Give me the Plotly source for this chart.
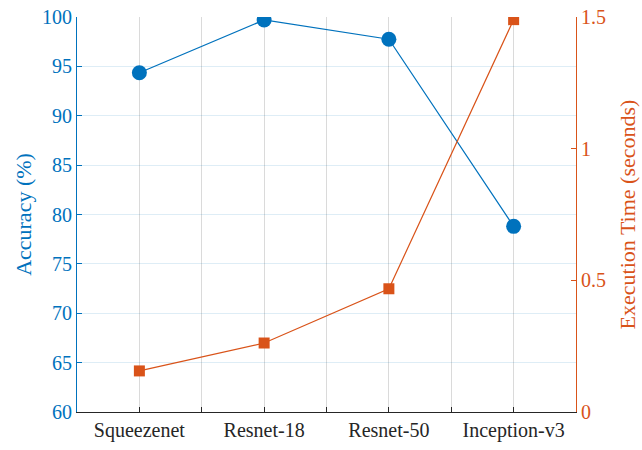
import plotly.graph_objects as go

# Model names and measured results
models = ["Squeezenet", "Resnet-18", "Resnet-50", "Inception-v3"]
accuracy_pct = [94.35, 99.7, 97.75, 78.8]
exec_time_s = [0.156, 0.262, 0.468, 1.49]

# Category positions (integers) with half-step ticks in between
x_pos = list(range(1, len(models) + 1))
tick_vals = [0.5 + 0.5 * i for i in range(2 * len(models) + 1)]
tick_text = [models[int(v) - 1] if float(v).is_integer() else "" for v in tick_vals]

BLUE = "#0072BD"
ORANGE = "#D95319"
DARK = "#262626"
FONT = "Liberation Serif"

fig = go.Figure()

fig.add_trace(go.Scatter(
    x=x_pos, y=accuracy_pct, mode="lines+markers", name="Accuracy",
    line=dict(color=BLUE, width=1.2),
    marker=dict(symbol="circle", size=15, color=BLUE, line=dict(width=0)),
    yaxis="y",
))

fig.add_trace(go.Scatter(
    x=x_pos, y=exec_time_s, mode="lines+markers", name="Execution Time",
    line=dict(color=ORANGE, width=1.2),
    marker=dict(symbol="square", size=11, color=ORANGE, line=dict(width=0)),
    yaxis="y2",
))

fig.update_layout(
    width=642, height=450,
    margin=dict(l=77, r=66, t=17, b=38),
    paper_bgcolor="white", plot_bgcolor="white",
    showlegend=False,
    font=dict(family=FONT, size=20, color=DARK),
    xaxis=dict(
        range=[0.5, 4.5], tickmode="array", tickvals=tick_vals, ticktext=tick_text,
        showline=True, linecolor=DARK, linewidth=1.2,
        ticks="inside", ticklen=5, tickcolor=DARK, tickwidth=1,
        showgrid=True, gridcolor="rgba(38,38,38,0.17)", gridwidth=1,
        zeroline=False, tickfont=dict(size=20, color=DARK), automargin=False,
    ),
    yaxis=dict(
        range=[60, 100], dtick=5, tick0=60,
        showline=True, linecolor=BLUE, linewidth=1.2,
        ticks="inside", ticklen=5, tickcolor=BLUE, tickwidth=1,
        showgrid=True, gridcolor="rgba(0,114,189,0.13)", gridwidth=1,
        zeroline=False, tickfont=dict(size=20, color=BLUE), automargin=False,
        title=dict(text="Accuracy (%)", font=dict(size=22, color=BLUE), standoff=4),
    ),
    yaxis2=dict(
        range=[0, 1.5], tickvals=[0, 0.5, 1, 1.5], ticktext=["0", "0.5", "1", "1.5"],
        overlaying="y", side="right",
        showline=True, linecolor=ORANGE, linewidth=1.2,
        ticks="inside", ticklen=5, tickcolor=ORANGE, tickwidth=1,
        showgrid=False, zeroline=False, tickfont=dict(size=20, color=ORANGE),
        automargin=False,
        title=dict(text="Execution Time (seconds)", font=dict(size=22, color=ORANGE), standoff=14),
    ),
)

fig.write_html("out.html")
